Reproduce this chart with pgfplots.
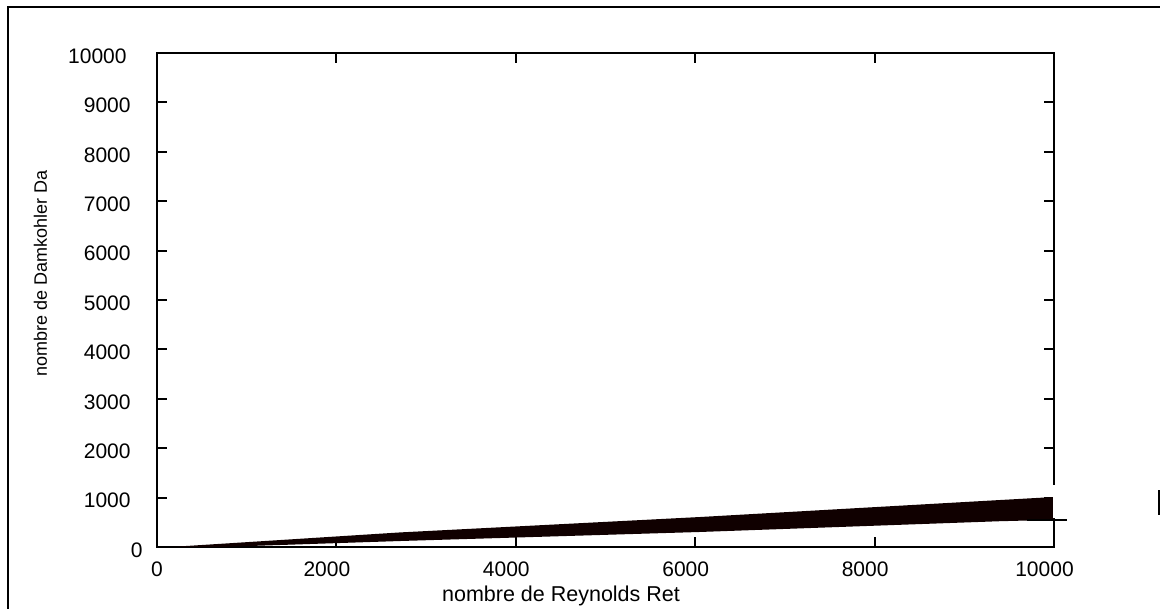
\documentclass[border=0pt]{standalone}
\usepackage{fontspec}
\setmainfont{Liberation Sans}
\usepackage{pgfplots}
\pgfplotsset{compat=1.18}
\definecolor{band}{RGB}{16,0,0}
\begin{document}
\begin{tikzpicture}
\useasboundingbox (0,0) rectangle (580pt,304.5pt);
\clip (0,0) rectangle (580pt,304.5pt);
\draw[line width=0.75pt, color=black] (4pt,-20pt) rectangle (600pt,301pt);
\begin{axis}[
  at={(78.5pt,31pt)}, anchor=south west,
  scale only axis, width=448.5pt, height=247pt,
  xmin=0, xmax=10000, ymin=0, ymax=10000,
  xtick={0,2000,4000,6000,8000,10000},
  ytick={0,1000,2000,3000,4000,5000,6000,7000,8000,9000,10000},
  xticklabels={\hspace*{9.5pt}0,2000,4000,6000,8000,10000},
  yticklabels={0\hspace*{-7pt},1000,2000,3000,4000,5000,6000,7000,8000,9000,10000\hspace*{2pt}},
  scaled ticks=false,
  tick align=inside, major tick length=5pt,
  tick style={line width=1pt, black},
  axis line style={line width=1pt},
  ticklabel style={font=\fontsize{10.5}{12}\selectfont, inner sep=0pt},
  xticklabel style={anchor=north, yshift=-7pt, xshift=-4.75pt},
  yticklabel style={anchor=east, xshift=-13pt, yshift=-1.5pt},
  xlabel={nombre de Reynolds Ret},
  ylabel={nombre de Damkohler Da},
  xlabel style={font=\fontsize{10.75}{12}\selectfont, at={(axis description cs:0.4504,-0.1113)}, anchor=base, inner sep=0pt},
  ylabel style={font=\fontsize{9}{11}\selectfont, at={(axis description cs:-0.1299,0.5536)}, anchor=center, inner sep=0pt},
]
\addplot[fill=band, draw=none] coordinates {
  (150,0) (2709,295) (6054,607) (9398,951) (10000,1012)
  (10000,550) (9398,522) (6054,304) (2709,121) (700,0)
} -- cycle;
\end{axis}
\fill[white] (526.5pt,45.5pt) rectangle (538pt,62pt);
\draw[line width=1pt] (513.5pt,44.5pt) -- (533.5pt,44.5pt);
\draw[line width=1pt] (579.5pt,47pt) -- (579.5pt,59.5pt);
\end{tikzpicture}
\end{document}
